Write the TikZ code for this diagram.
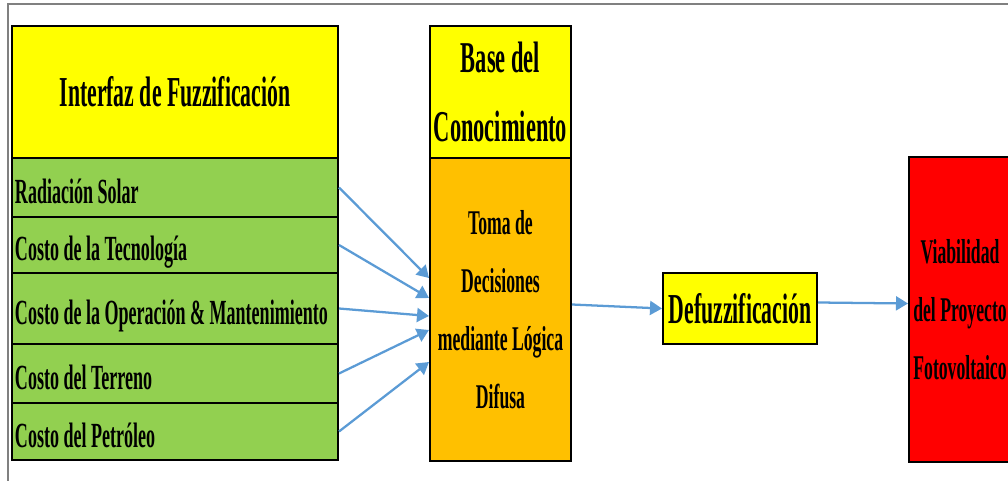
\documentclass[tikz,border=0pt]{standalone}
\usepackage{fontspec}
\setmainfont[FakeStretch=0.51]{Liberation Serif}
\usetikzlibrary{arrows.meta,calc}
\definecolor{amarillo}{RGB}{255,255,0}
\definecolor{verde}{RGB}{146,208,80}
\definecolor{naranja}{RGB}{255,192,0}
\definecolor{rojo}{RGB}{255,0,0}
\definecolor{azulflecha}{RGB}{91,155,213}
\definecolor{marco}{RGB}{128,128,128}
\newcommand{\textofila}[1]{\makebox[240pt][l]{#1}}

\begin{document}
\begin{tikzpicture}[x=0.75pt,y=-0.75pt,
    caja/.style={draw=black, line width=1.5pt, inner sep=0pt, align=center},
    fila/.style={caja, fill=verde, minimum width=244.5pt,
      text height=23.5pt, text depth=0pt, font=\bfseries\fontsize{26.5}{30}\selectfont},
    flechaazul/.style={draw=azulflecha, line width=1.7pt, -{Triangle[length=9pt,width=10.5pt]}}]
    \useasboundingbox (0,0) rectangle (1008,481);
    \clip (0,0) rectangle (1008,481);
    \draw[marco, line width=1.5pt] (7.5,481) -- (7.5,4.5) -- (1008,4.5);
    %
    \node[caja, fill=amarillo, minimum width=244.5pt, minimum height=99pt,
      font=\bfseries\fontsize{32}{38}\selectfont] (interfaz) at (175,92) {Interfaz de Fuzzificación};
    \node[fila, minimum height=44.25pt] (radiacion) at (175,187.5) {\textofila{Radiación Solar}};
    \node[fila, minimum height=42pt] (tecnologia) at (175,245) {\textofila{Costo de la Tecnología}};
    \node[fila, minimum height=53.25pt] (operacion) at (175,308.5) {\textofila{Costo de la Operación \& Mantenimiento}};
    \node[fila, minimum height=44.25pt] (terreno) at (175,373.5) {\textofila{Costo del Terreno}};
    \node[fila, minimum height=42.75pt] (petroleo) at (175,431.5) {\textofila{Costo del Petróleo}};
    %
    \node[caja, fill=amarillo, minimum width=105.75pt, minimum height=99pt,
      font=\bfseries\fontsize{33}{52}\selectfont] (base) at (500.5,92) {Base del\\Conocimiento};
    \node[caja, fill=naranja, minimum width=105.75pt, minimum height=227.25pt,
      font=\bfseries\fontsize{26}{43.5}\selectfont] (toma) at (500.5,309.5) {Toma de\\Decisiones\\mediante Lógica\\Difusa};
    \node[caja, fill=amarillo, minimum width=115.5pt, minimum height=53.25pt,
      font=\bfseries\fontsize{32}{38}\selectfont] (defuzz) at (740,308.5) {Defuzzificación};
    \node[caja, fill=rojo, minimum width=76.5pt, minimum height=228.75pt,
      font=\bfseries\fontsize{26}{43.5}\selectfont] (viabilidad) at (960,309.5) {Viabilidad\\del Proyecto\\Fotovoltaico};
    %
    \draw[flechaazul] (radiacion.east) -- ($(toma.west)+(0,-31.5)$);
    \draw[flechaazul] (tecnologia.east) -- ($(toma.west)+(0,-11.5)$);
    \draw[flechaazul] (operacion.east) -- ($(toma.west)+(0,6.5)$);
    \draw[flechaazul] (terreno.east) -- ($(toma.west)+(0,20.5)$);
    \draw[flechaazul] (petroleo.east) -- ($(toma.west)+(0,52.5)$);
    \draw[flechaazul] ($(toma.east)+(0,-5)$) -- (defuzz.west);
    \draw[flechaazul] ($(defuzz.east)+(0,-6)$) -- ($(viabilidad.west)+(0,-6)$);
\end{tikzpicture}
\end{document}
